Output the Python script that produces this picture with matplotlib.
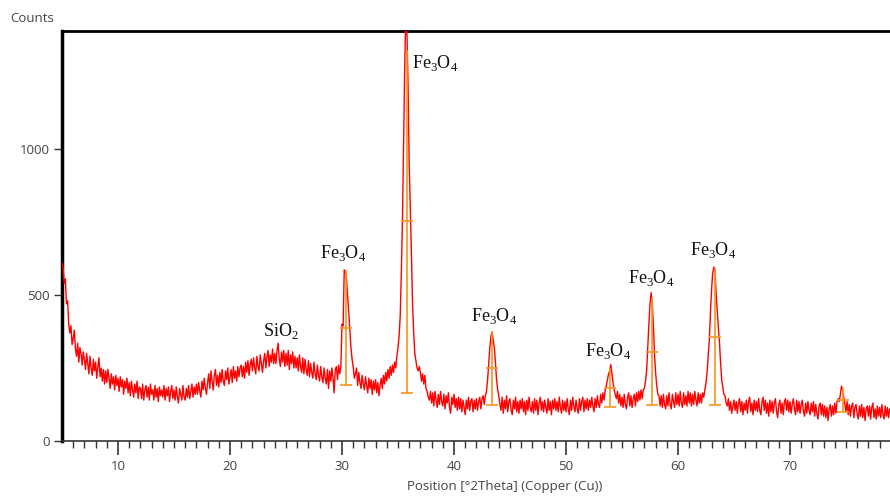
import numpy as np
import matplotlib
matplotlib.use("Agg")
from matplotlib import pyplot as plt

# 2theta grid: 5.0 .. 79.0 in 0.1 deg steps, counts
two_theta_start = 5.0
two_theta_step = 0.1
counts = [
    610, 595, 540, 555, 470, 480, 400, 370, 395, 330,   # 5
    350, 380, 315, 290, 335, 270, 320, 300, 260, 305,   # 6
    280, 245, 300, 265, 230, 290, 250, 225, 280, 240,   # 7
    270, 215, 255, 285, 220, 250, 205, 245, 195, 240,   # 8
    200, 245, 215, 180, 230, 195, 220, 175, 225, 190,   # 9
    215, 170, 220, 185, 210, 160, 205, 180, 215, 165,   # 10
    200, 155, 205, 175, 150, 195, 165, 205, 145, 185,   # 11
    180, 145, 195, 140, 175, 190, 150, 185, 140, 195,   # 12
    160, 175, 140, 190, 150, 180, 135, 185, 155, 175,   # 13
    150, 190, 140, 180, 155, 185, 135, 170, 190, 145,   # 14
    175, 140, 185, 150, 130, 180, 160, 140, 190, 150,   # 15
    140, 180, 150, 190, 145, 170, 195, 150, 185, 160,   # 16
    195, 160, 200, 170, 150, 205, 175, 215, 180, 160,   # 17
    200, 230, 180, 240, 205, 175, 225, 245, 190, 225,   # 18
    185, 235, 200, 245, 205, 190, 240, 210, 250, 195,   # 19
    220, 245, 200, 255, 215, 240, 205, 255, 220, 250,   # 20
    260, 220, 255, 215, 270, 235, 275, 225, 260, 280,   # 21
    240, 285, 250, 230, 290, 255, 240, 295, 265, 235,   # 22
    275, 300, 250, 290, 310, 255, 295, 270, 315, 265,   # 23
    300, 265, 310, 335, 280, 255, 305, 270, 310, 255,   # 24
    300, 260, 310, 245, 295, 265, 305, 250, 290, 250,   # 25
    285, 240, 295, 255, 235, 285, 230, 280, 245, 225,   # 26
    275, 220, 265, 235, 215, 270, 230, 210, 260, 225,   # 27
    205, 255, 220, 200, 250, 215, 195, 245, 180, 240,   # 28
    205, 250, 215, 165, 245, 255, 210, 260, 230, 255,   # 29
    400, 395, 586, 580, 555, 500, 440, 380, 320, 280,   # 30
    255, 215, 230, 250, 190, 235, 200, 180, 225, 195,   # 31
    175, 220, 190, 165, 215, 180, 210, 160, 205, 175,   # 32
    210, 165, 200, 155, 190, 215, 180, 225, 195, 235,   # 33
    205, 245, 215, 255, 225, 260, 235, 270, 250, 290,   # 34
    320, 360, 430, 580, 760, 1020, 1280, 1470, 1400, 1210,  # 35
    950, 800, 640, 470, 370, 300, 275, 250, 240, 255,   # 36
    235, 205, 230, 195, 225, 180, 170, 150, 140, 170,   # 37
    130, 165, 120, 170, 140, 115, 160, 125, 170, 135,   # 38
    120, 160, 110, 155, 130, 165, 115, 95, 150, 125,    # 39
    160, 115, 145, 105, 150, 110, 145, 100, 140, 115,   # 40
    90, 140, 110, 150, 105, 135, 145, 100, 140, 110,    # 41
    145, 105, 135, 150, 110, 145, 155, 125, 155, 170,   # 42
    210, 265, 320, 360, 372, 345, 320, 270, 210, 175,   # 43
    155, 125, 105, 150, 95, 140, 110, 155, 100, 135,    # 44
    145, 105, 90, 140, 110, 150, 100, 135, 95, 140,     # 45
    110, 145, 100, 135, 90, 140, 105, 150, 115, 100,    # 46
    135, 95, 145, 105, 140, 90, 130, 150, 105, 135,     # 47
    100, 140, 115, 95, 145, 105, 135, 90, 140, 110,     # 48
    145, 105, 135, 100, 150, 115, 95, 140, 105, 135,    # 49
    100, 145, 110, 90, 140, 105, 150, 120, 100, 140,    # 50
    110, 95, 145, 105, 135, 150, 100, 140, 110, 145,    # 51
    105, 140, 115, 150, 120, 100, 145, 115, 155, 125,   # 52
    115, 160, 130, 165, 140, 175, 190, 210, 230, 240,   # 53
    262, 230, 200, 175, 160, 145, 170, 130, 160, 120,   # 54
    150, 115, 160, 125, 110, 150, 165, 120, 155, 115,   # 55
    145, 160, 120, 165, 135, 170, 140, 175, 145, 175,   # 56
    180, 205, 240, 320, 400, 470, 508, 470, 400, 300,   # 57
    235, 190, 160, 155, 120, 155, 115, 160, 125, 110,   # 58
    155, 120, 165, 125, 110, 160, 135, 115, 165, 125,   # 59
    160, 120, 170, 130, 115, 165, 125, 155, 120, 170,   # 60
    130, 165, 120, 160, 125, 170, 140, 120, 165, 130,   # 61
    160, 130, 165, 150, 175, 200, 235, 290, 350, 440,   # 62
    520, 575, 596, 585, 510, 450, 390, 340, 270, 210,   # 63
    185, 160, 155, 130, 120, 145, 105, 135, 95, 120,    # 64
    140, 105, 135, 95, 130, 145, 100, 135, 90, 130,     # 65
    105, 140, 95, 135, 150, 100, 130, 90, 140, 105,     # 66
    135, 100, 145, 105, 90, 135, 150, 105, 140, 95,     # 67
    130, 85, 140, 100, 135, 95, 130, 145, 100, 80,      # 68
    125, 140, 95, 130, 90, 135, 145, 105, 140, 100,     # 69
    135, 95, 125, 145, 110, 90, 140, 100, 135, 95,      # 70
    125, 140, 100, 85, 130, 95, 135, 105, 90, 130,      # 71
    100, 135, 85, 125, 95, 75, 120, 130, 90, 125,       # 72
    85, 120, 80, 115, 70, 110, 125, 85, 120, 90,        # 73
    130, 95, 135, 145, 135, 160, 188, 175, 150, 125,    # 74
    100, 135, 90, 125, 85, 120, 130, 80, 115, 125,      # 75
    90, 75, 120, 85, 125, 80, 115, 70, 110, 120,        # 76
    85, 120, 75, 115, 130, 80, 110, 75, 120, 85,        # 77
    115, 80, 125, 90, 75, 120, 85, 115, 80, 110,        # 78
    95,                                                 # 79
]

# identified peak markers: position, background, fitted top
peak_pos = [30.33, 35.77, 43.40, 53.93, 57.65, 63.30, 74.76]
peak_base = [192, 165, 123, 117, 123, 123, 99]
peak_top = [585, 1340, 377, 249, 489, 591, 181]

# phase labels: text, x, y, alignment
label_text = ["Fe$_\\mathregular{3}$O$_\\mathregular{4}$"] * 6 + ["SiO$_\\mathregular{2}$"]
label_x = [36.25, 30.1, 43.6, 53.8, 57.6, 63.1, 24.5]
label_y = [1295, 644, 428, 308, 558, 654, 377]
label_ha = ["left", "center", "center", "center", "center", "center", "center"]

two_theta = two_theta_start + two_theta_step * np.arange(len(counts))

fig = plt.figure(figsize=(8.9, 4.96), dpi=100)
ax = fig.add_axes([62 / 890, 1 - 441 / 496, 828 / 890, 410 / 496])

ax.plot(two_theta, counts, color="#ff0000", lw=1.0, zorder=3)

# peak markers (vertical stick, cap at background and at half height)
marker_col = "#f7931e"
ax.vlines(peak_pos, peak_base, peak_top, color=marker_col, lw=1.2, zorder=4)
peak_mid = [(b + t) / 2.0 for b, t in zip(peak_base, peak_top)]
ax.plot(peak_pos, peak_base, ls="none", marker="_", ms=8, mew=1.2,
        color=marker_col, zorder=4)
ax.plot(peak_pos, peak_mid, ls="none", marker="_", ms=8, mew=1.2,
        color=marker_col, zorder=4)

for txt, x, y, ha in zip(label_text, label_x, label_y, label_ha):
    ax.text(x, y, txt, ha=ha, va="center", fontsize=13,
            family="Liberation Serif", color="#111111", zorder=5)

ax.set_xlim(5, 78.93)
ax.set_ylim(0, 1404)

# spines like the HighScore export
ax.spines["right"].set_visible(False)
ax.spines["left"].set_linewidth(2.5)
ax.spines["top"].set_linewidth(2.0)
ax.spines["bottom"].set_linewidth(1.2)
ax.spines["bottom"].set_color("#333333")

ax.set_xticks(np.arange(10, 80, 10))
ax.set_xticks(np.arange(6, 79, 1), minor=True)
ax.set_yticks([0, 500, 1000])
ax.tick_params(axis="x", which="major", direction="out", length=10,
               width=1.2, color="#333333", labelcolor="#444444",
               labelsize=9.5, pad=4)
ax.tick_params(axis="x", which="minor", direction="out", length=5,
               width=1.0, color="#333333")
ax.tick_params(axis="y", which="major", direction="out", length=6,
               width=1.0, color="#333333", labelcolor="#444444",
               labelsize=9.5, pad=3)
for lab in ax.get_xticklabels() + ax.get_yticklabels():
    lab.set_family("Open Sans")

ax.set_xlabel("Position [°2Theta] (Copper (Cu))", family="Open Sans",
              fontsize=9.5, color="#444444", labelpad=5)
ax.xaxis.set_label_coords((505 - 62) / 828, -0.095)
fig.text(10 / 890, 1 - 18 / 496, "Counts", family="Open Sans",
         fontsize=9.5, color="#444444", va="center", ha="left")

fig.savefig("out.png", dpi=100)
